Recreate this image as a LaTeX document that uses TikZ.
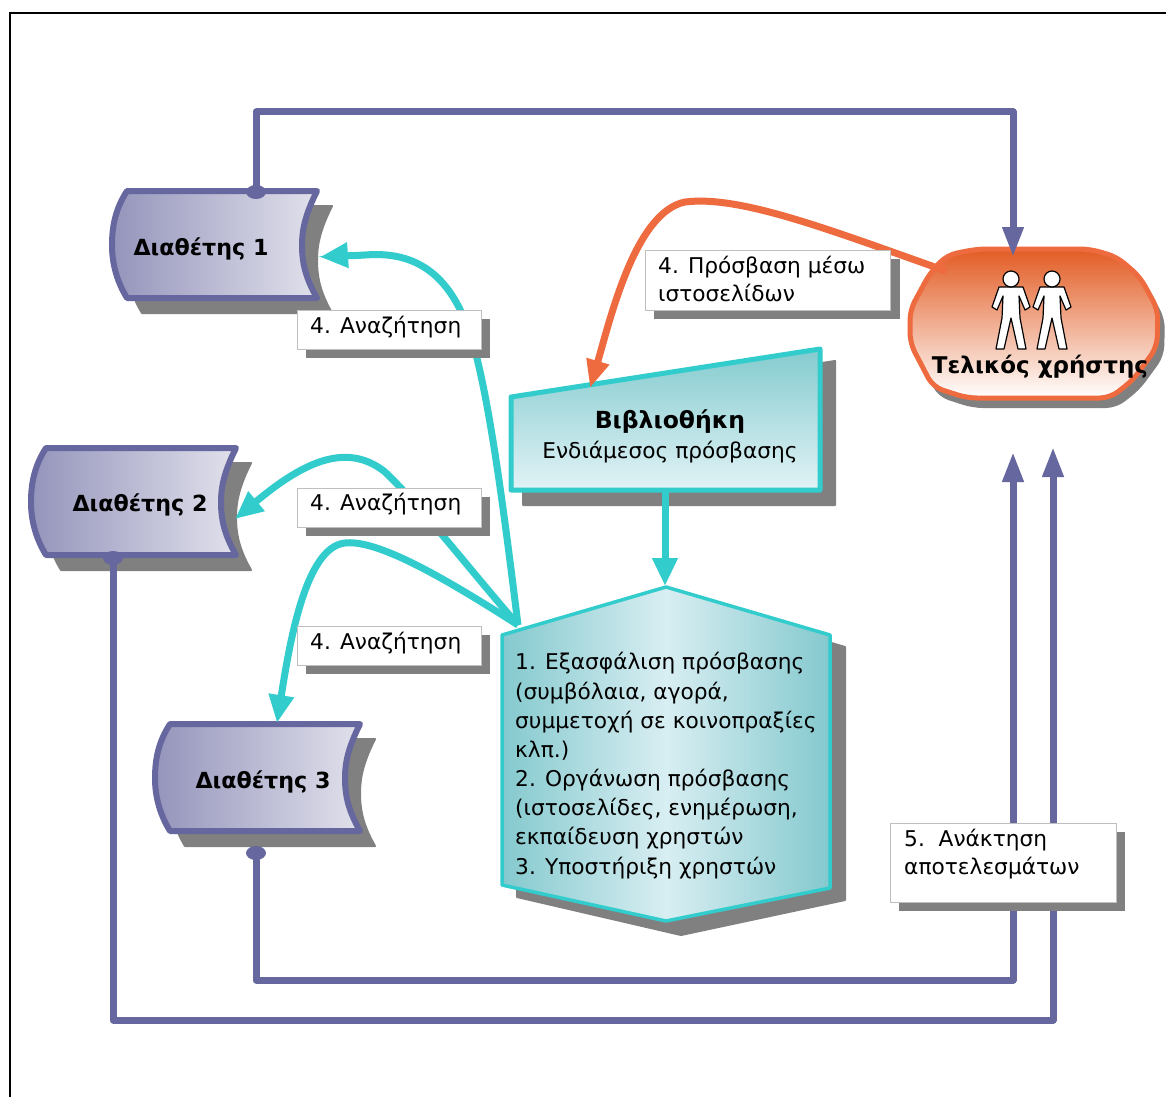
\documentclass[tikz,border=0pt]{standalone}
\usepackage{fontspec}
\setmainfont{DejaVu Sans}
\usetikzlibrary{arrows.meta}
\definecolor{bluel}{HTML}{67679F}
\definecolor{teall}{HTML}{33CCCC}
\definecolor{orangel}{HTML}{EE6A3F}
\definecolor{shad}{HTML}{808080}
\definecolor{libtop}{HTML}{84CBCF}
\definecolor{libbot}{HTML}{E2F3F6}
\definecolor{hexedge}{HTML}{84C9CE}
\definecolor{hexmid}{HTML}{D8EEF2}
\definecolor{usertop}{HTML}{E25C24}
\tikzset{
  x=1pt,y=-1pt,
  shadowfill/.style={fill=shad,line join=round,draw=shad,line width=2pt},
  docshape/.style={draw=bluel,line width=6pt,line join=round,left color=bluel!70,right color=bluel!20!white},
  bluelink/.style={draw=bluel,line width=7pt,line join=round},
  bluetip/.style={-{Triangle[length=30pt,width=20pt]}},
  teallink/.style={draw=teall,line width=7pt,-{Triangle[length=28pt,width=24pt]}},
  orangelink/.style={draw=orangel,line width=7pt,-{Triangle[length=28pt,width=22pt]}},
  dot/.style={fill=bluel,draw=none},
  labelbox/.style={draw=black!25,fill=white,line width=1pt},
  labelshadow/.style={fill=shad},
  bodytext/.style={font=\fontsize{21.7}{22}\selectfont,anchor=base west,inner sep=0pt},
  boldtext/.style={font=\fontsize{23}{23}\selectfont\bfseries,anchor=base,inner sep=0pt},
  doctext/.style={font=\fontsize{22.2}{23}\selectfont\bfseries,anchor=base,inner sep=0pt},
  person/.style={draw=black,fill=white,line width=1.2pt,line join=round}
}
\newcommand{\docpath}{(127,191) -- (317,191) .. controls (305,215) and (302,230) .. (302,245) .. controls (302,262) and (305,277) .. (317,298) -- (127,298) .. controls (116,280) and (112,262) .. (112,245) .. controls (112,225) and (116,208) .. (127,191) -- cycle}
\newcommand{\userpath}{(910,310) -- (930,273) -- (947,255) -- (977,249) -- (1090,249) -- (1117,257) -- (1140,277) -- (1158,310) -- (1157,347) -- (1133,380) -- (1110,398) -- (967,398) -- (933,387) -- (910,343) -- cycle}
\newcommand{\personat}[1]{%
  \begin{scope}[shift={(#1,0)}]
    \draw[person] (-12,287) -- (12,287) -- (19,307) -- (14,310) -- (8,296) -- (9,318) -- (15,349) -- (7,349) -- (0,318) -- (-7,349) -- (-15,349) -- (-9,318) -- (-8,296) -- (-14,310) -- (-19,307) -- cycle;
    \draw[person] (0,279) circle (8);
  \end{scope}}
\begin{document}
\begin{tikzpicture}
\useasboundingbox (0,0) rectangle (1166,1097);
\fill[white] (0,0) rectangle (1166,1097);
\draw[black,line width=1.6pt] (10,1097) -- (10,13) -- (1166,13);

% anchor points of the connectors
\coordinate (d1top) at (256,192);
\coordinate (d1in) at (320,257);
\coordinate (d2in) at (235,519);
\coordinate (d2bot) at (113,558);
\coordinate (d3in) at (277,723);
\coordinate (d3bot) at (256,853);
\coordinate (userN) at (1013,257);
\coordinate (userW) at (946,271);
\coordinate (userS1) at (1013,452);
\coordinate (userS2) at (1053,447);
\coordinate (libN) at (590,388);
\coordinate (libS) at (665,490);
\coordinate (hexN) at (665,586);
\coordinate (hexW) at (518,625);

% shadows
\fill[shadowfill,shift={(15,15)}] \docpath;
\fill[shadowfill,shift={(-66,272)}] \docpath;
\fill[shadowfill,shift={(58,548)}] \docpath;
\fill[shadowfill] (523,409) -- (835,361) -- (835,505) -- (523,505) -- cycle;
\fill[shadowfill] (517,647) -- (681,599) -- (845,647) -- (845,900) -- (681,935) -- (517,897) -- cycle;
\fill[shadowfill,shift={(6,9)},rounded corners=10pt] \userpath;

% blue connectors behind the shapes
\draw[bluelink] (d1top) -- (256,112) -- (1013,112) -- (1013,230);
\draw[bluelink] (d2bot) -- (113,1020) -- (1053,1020) -- (1053,470);
\draw[bluelink] (d3bot) -- (256,980) -- (1013,980) -- (1013,475);

% shapes
\path[docshape] \docpath;
\path[docshape,shift={(-81,257)}] \docpath;
\path[docshape,shift={(43,533)}] \docpath;
\path[draw=teall,line width=5pt,line join=round,top color=libtop,bottom color=libbot] (511,397) -- (820,349) -- (820,490) -- (511,490) -- cycle;
\path[draw=teall,line width=3.5pt,line join=round,left color=hexedge,right color=hexedge,middle color=hexmid] (666,587) -- (830,635) -- (830,888) -- (666,921) -- (502,885) -- (502,635) -- cycle;
\path[draw=orangel,line width=5pt,rounded corners=10pt,top color=usertop,bottom color=white] \userpath;
\personat{1011}
\personat{1052}

% blue dots and tips
\fill[dot] (d1top) ellipse (10 and 7);
\fill[dot] (d2bot) ellipse (10 and 7);
\fill[dot] (d3bot) ellipse (10 and 7);
\draw[bluelink,bluetip] (1013,225) -- (userN);
\draw[bluelink,bluetip] (1013,485) -- (userS1);
\draw[bluelink,bluetip] (1053,480) -- (userS2);

% teal and orange connectors
\draw[teallink] (hexW) .. controls (505,520) and (490,400) .. (472,340) .. controls (455,285) and (425,250) .. (365,255) .. controls (350,256) and (335,256) .. (d1in);
\draw[teallink] (hexW) .. controls (470,570) and (420,505) .. (385,472) .. controls (345,440) and (300,465) .. (d2in);
\draw[teallink] (hexW) .. controls (440,575) and (370,535) .. (340,544) .. controls (305,555) and (290,640) .. (d3in);
\draw[teallink] (libS) -- (hexN);
\draw[orangelink] (userW) .. controls (830,230) and (740,195) .. (685,202) .. controls (635,212) and (610,320) .. (libN);

% label boxes
\fill[labelshadow] (306,319) rectangle (490,358);
\fill[labelshadow] (306,497) rectangle (490,536);
\fill[labelshadow] (306,635) rectangle (490,674);
\fill[labelshadow] (654,259) rectangle (900,319);
\fill[labelshadow] (899,832) rectangle (1125,911);
\draw[labelbox] (297,310) rectangle (481,349);
\draw[labelbox] (297,488) rectangle (481,527);
\draw[labelbox] (297,626) rectangle (481,665);
\draw[labelbox] (645,250) rectangle (890,310);
\draw[labelbox] (890,823) rectangle (1116,902);

% texts
\node[doctext] (tD1) at (201,255) {Διαθέτης 1};
\node[doctext] (tD2) at (140,511) {Διαθέτης 2};
\node[doctext] (tD3) at (263,788) {Διαθέτης 3};
\node[boldtext] (tUser) at (1040,373) {Τελικός χρήστης};
\node[boldtext,font=\fontsize{23.5}{24}\selectfont\bfseries] (tLib) at (670,428) {Βιβλιοθήκη};
\node[bodytext,anchor=base] (tLib2) at (670,458) {Ενδιάμεσος πρόσβασης};
\node[bodytext] (lA) at (310,333) {4. Αναζήτηση};
\node[bodytext] (lB) at (310,510) {4. Αναζήτηση};
\node[bodytext] (lC) at (310,649) {4. Αναζήτηση};
\node[bodytext] (lP1) at (658,273) {4. Πρόσβαση μέσω};
\node[bodytext] (lP2) at (658,301) {ιστοσελίδων};
\node[bodytext] (lR1) at (904,846) {5.\ \ Ανάκτηση};
\node[bodytext] (lR2) at (904,874) {αποτελεσμάτων};
\node[bodytext] (h1) at (515,669) {1. Εξασφάλιση πρόσβασης};
\node[bodytext] (h2) at (515,699) {(συμβόλαια, αγορά,};
\node[bodytext] (h3) at (515,728) {συμμετοχή σε κοινοπραξίες};
\node[bodytext] (h4) at (515,757) {κλπ.)};
\node[bodytext] (h5) at (515,786) {2. Οργάνωση πρόσβασης};
\node[bodytext] (h6) at (515,815) {(ιστοσελίδες, ενημέρωση,};
\node[bodytext] (h7) at (515,844) {εκπαίδευση χρηστών};
\node[bodytext] (h8) at (515,874) {3. Υποστήριξη χρηστών};
\end{tikzpicture}
\end{document}
